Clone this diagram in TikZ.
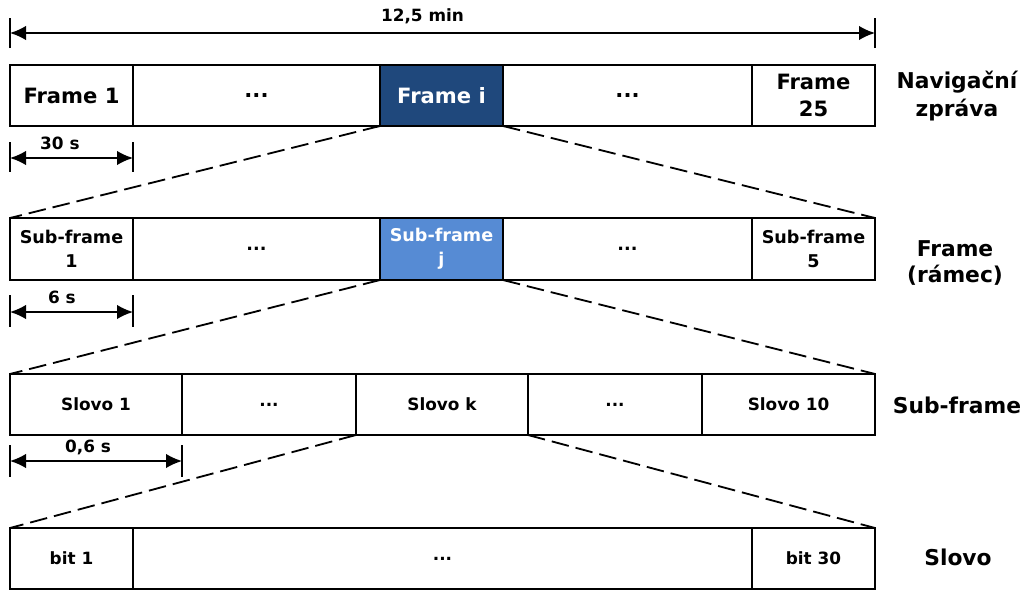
\documentclass[tikz,border=0pt]{standalone}
\usepackage{fontspec}
\setmainfont{DejaVu Sans}
\usetikzlibrary{positioning,arrows.meta}

\definecolor{framedark}{RGB}{31,72,124}
\definecolor{framelight}{RGB}{86,139,212}

\tikzset{
  cell/.style={draw,line width=1.4pt,inner sep=0pt,outer sep=0pt,
    minimum height=1.525cm,align=center},
  rowa/.style={cell,font=\fontsize{15}{19}\selectfont\bfseries},
  rowb/.style={cell,font=\fontsize{12.5}{17}\selectfont\bfseries},
  rowc/.style={cell,font=\fontsize{12}{15}\selectfont\bfseries},
  level/.style={align=center,font=\fontsize{15.5}{19.5}\selectfont\bfseries},
  dimlbl/.style={font=\fontsize{12}{14}\selectfont\bfseries,inner sep=0pt},
  dim/.style={line width=1.1pt,{Latex[length=4mm,width=3.6mm]}-{Latex[length=4mm,width=3.6mm]}},
  tick/.style={line width=1pt},
  zoomline/.style={line width=1.3pt,dash pattern=on 12.5pt off 5pt}
}

\begin{document}
\begin{tikzpicture}
\useasboundingbox (0,0) rectangle (25.65,-14.75);

% navigacni zprava
\node[rowa,anchor=west,minimum width=3.075cm] (f1) at (0.25,-2.3875) {Frame 1};
\node[rowa,minimum width=6.175cm,right=0pt of f1] (fdots1) {...};
\node[rowa,minimum width=3.075cm,right=0pt of fdots1,fill=framedark,text=white] (fi) {Frame i};
\node[rowa,minimum width=6.225cm,right=0pt of fi] (fdots2) {...};
\node[rowa,minimum width=3.075cm,right=0pt of fdots2] (f25) {Frame\\25};
\node[level] (lvla) at (23.925,-2.4) {Navigační\\zpráva};

% frame
\node[rowb,anchor=west,minimum width=3.075cm,minimum height=1.55cm] (s1) at (0.25,-6.225) {Sub-frame\\1};
\node[rowb,minimum width=6.175cm,minimum height=1.55cm,right=0pt of s1] (sdots1) {...};
\node[rowb,minimum width=3.075cm,minimum height=1.55cm,right=0pt of sdots1,fill=framelight,text=white] (sj) {Sub-frame\\j};
\node[rowb,minimum width=6.225cm,minimum height=1.55cm,right=0pt of sj] (sdots2) {...};
\node[rowb,minimum width=3.075cm,minimum height=1.55cm,right=0pt of sdots2] (s5) {Sub-frame\\5};
\node[level,font=\fontsize{15.5}{18}\selectfont\bfseries] (lvlb) at (23.875,-6.575) {Frame\\(rámec)};

% sub-frame
\node[rowc,anchor=west,minimum width=4.3cm] (w1) at (0.25,-10.1125) {Slovo 1};
\node[rowc,minimum width=4.35cm,right=0pt of w1] (wdots1) {...};
\node[rowc,minimum width=4.3cm,right=0pt of wdots1] (wk) {Slovo k};
\node[rowc,minimum width=4.35cm,right=0pt of wk] (wdots2) {...};
\node[rowc,minimum width=4.325cm,right=0pt of wdots2] (w10) {Slovo 10};
\node[level] (lvlc) at (23.925,-10.125) {Sub-frame};

% slovo
\node[rowc,anchor=west,minimum width=3.075cm] (b1) at (0.25,-13.9625) {bit 1};
\node[rowc,minimum width=15.475cm,right=0pt of b1] (bdots) {...};
\node[rowc,minimum width=3.075cm,right=0pt of bdots] (b30) {bit 30};
\node[level] (lvld) at (23.95,-13.925) {Slovo};

% delky
\draw[tick] ([yshift=0.425cm]f1.north west) -- ([yshift=1.175cm]f1.north west);
\draw[tick] ([yshift=0.425cm]f25.north east) -- ([yshift=1.175cm]f25.north east);
\draw[dim] ([yshift=0.8cm]f1.north west) -- node[dimlbl,xshift=-0.5cm,yshift=0.425cm] {12,5 min} ([yshift=0.8cm]f25.north east);

\draw[tick] ([yshift=-0.4cm]f1.south west) -- ([yshift=-1.15cm]f1.south west);
\draw[tick] ([yshift=-0.4cm]f1.south east) -- ([yshift=-1.15cm]f1.south east);
\draw[dim] ([yshift=-0.8cm]f1.south west) -- node[dimlbl,xshift=-0.29cm,yshift=0.375cm] {30 s} ([yshift=-0.8cm]f1.south east);

\draw[tick] ([yshift=-0.375cm]s1.south west) -- ([yshift=-1.175cm]s1.south west);
\draw[tick] ([yshift=-0.375cm]s1.south east) -- ([yshift=-1.175cm]s1.south east);
\draw[dim] ([yshift=-0.8cm]s1.south west) -- node[dimlbl,xshift=-0.24cm,yshift=0.375cm] {6 s} ([yshift=-0.8cm]s1.south east);

\draw[tick] ([yshift=-0.25cm]w1.south west) -- ([yshift=-1.05cm]w1.south west);
\draw[tick] ([yshift=-0.25cm]w1.south east) -- ([yshift=-1.05cm]w1.south east);
\draw[dim] ([yshift=-0.65cm]w1.south west) -- node[dimlbl,xshift=-0.2cm,yshift=0.35cm] {0,6 s} ([yshift=-0.65cm]w1.south east);

% rozbaleni
\draw[zoomline] (fi.south west) -- (s1.north west);
\draw[zoomline] (fi.south east) -- (s5.north east);
\draw[zoomline] (sj.south west) -- (w1.north west);
\draw[zoomline] (sj.south east) -- (w10.north east);
\draw[zoomline] (wk.south west) -- (b1.north west);
\draw[zoomline] (wk.south east) -- (b30.north east);

\end{tikzpicture}
\end{document}
